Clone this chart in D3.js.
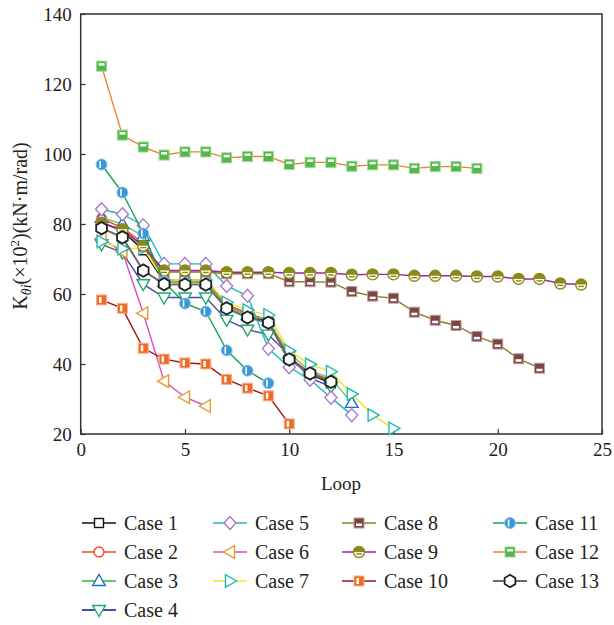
<!DOCTYPE html>
<html>
<head>
<meta charset="utf-8">
<script src="https://cdn.jsdelivr.net/npm/d3@7"></script>
<style>
  body { margin: 0; background: #fff; }
  svg text { font-family: "Liberation Serif", "DejaVu Serif", serif; fill: #222; }
</style>
</head>
<body>
<div id="chart"></div>
<script>
// values per loop (loop = index + 1)
const caseNames = ["Case 1", "Case 2", "Case 3", "Case 4", "Case 5", "Case 6", "Case 7",
  "Case 8", "Case 9", "Case 10", "Case 11", "Case 12", "Case 13"];

const case1 = [80.5, 78, 72.5, 63.5, 63.5, 63.5, 56.5, 54, 52, 41.5, 37, 34.5];
const case2 = [81.5, 79, 74.5, 64, 64, 64, 57, 54.5, 52.5, 42, 37.5, 35.5];
const case3 = [81.8, 80, 76.5, 63.5, 63.5, 63.5, 56.5, 54, 52.5, 43, 38, 36, 28.9];
const case4 = [74.2, 71.8, 62.8, 59, 59, 59, 52.6, 49.8, 48.4, 42.5, 36, 33.5];
const case5 = [84.2, 82.8, 79.6, 68.6, 68.6, 68.6, 62.3, 59.5, 44.4, 39.1, 35.5, 30.4, 25.4];
const case6 = [75.9, 72.1, 54.5, 35.1, 30.5, 28];
const case7 = [75, 73, 73, 64, 64, 64, 57.6, 55.4, 54, 43.8, 39.9, 37.8, 31.4, 25.4, 21.6];
const case8 = [80.5, 78, 73.5, 66.3, 66.3, 66.3, 65.8, 65.8, 65.8, 63.5, 63.5, 63.4, 60.7,
  59.4, 58.8, 54.8, 52.5, 51, 47.9, 45.7, 41.5, 38.8];
const case9 = [80.2, 78.5, 73.8, 66.7, 66.7, 66.7, 66.2, 66.2, 66.2, 66, 66, 66, 65.5, 65.6,
  65.6, 65.2, 65.2, 65.2, 65, 65, 64.3, 64.3, 63, 62.7];
const case10 = [58.3, 55.9, 44.5, 41.4, 40.3, 40, 35.6, 33.1, 30.9, 22.9];
const case11 = [97, 89, 77.3, 63.5, 57.3, 55, 43.9, 38.1, 34.5];
const case12 = [125.1, 105.4, 102, 99.7, 100.6, 100.6, 98.9, 99.3, 99.3, 97, 97.6, 97.6,
  96.5, 96.9, 96.9, 95.9, 96.4, 96.4, 95.9];
const case13 = [78.8, 76.2, 66.7, 62.8, 62.7, 62.7, 55.9, 53.3, 51.8, 41.3, 37.3, 34.9];

const xTicks = [0, 5, 10, 15, 20, 25];
const yTicks = [20, 40, 60, 80, 100, 120, 140];

const allValues = [case1, case2, case3, case4, case5, case6, case7, case8, case9,
  case10, case11, case12, case13];

// line colour, marker colour, marker kind
const styles = [
  { line: "#111", mk: "#111", kind: "square" },
  { line: "#f04a2a", mk: "#f04a2a", kind: "circle" },
  { line: "#6cc46c", mk: "#1a6fc4", kind: "triUp" },
  { line: "#4a4aa8", mk: "#20a870", kind: "triDown" },
  { line: "#20b8c0", mk: "#a878c8", kind: "diamond" },
  { line: "#d850b8", mk: "#e89a28", kind: "triLeft" },
  { line: "#f0e428", mk: "#20b8b8", kind: "triRight" },
  { line: "#808020", mk: "#7a4646", kind: "sqBarLow" },
  { line: "#a020a8", mk: "#8a8a18", kind: "halfCircle" },
  { line: "#a01414", mk: "#f06a24", kind: "sqBarV" },
  { line: "#18a050", mk: "#3a98d8", kind: "circleV" },
  { line: "#f08030", mk: "#50b848", kind: "sqBarHigh" },
  { line: "#6a6a6a", mk: "#222", kind: "hexagon" }
];

const W = 614, H = 625;
const svg = d3.select("#chart").append("svg")
  .attr("width", W).attr("height", H);

const x = d3.scaleLinear().domain([0, 25]).range([80.7, 602]);
const y = d3.scaleLinear().domain([20, 140]).range([434, 14]);

function drawMarker(g, kind, c) {
  const sw = 1.4;
  if (kind === "square") {
    g.append("rect").attr("x", -4.5).attr("y", -4.5).attr("width", 9).attr("height", 9)
      .attr("fill", "#fff").attr("stroke", c).attr("stroke-width", sw);
  } else if (kind === "circle") {
    g.append("circle").attr("r", 5).attr("fill", "#fff").attr("stroke", c).attr("stroke-width", sw);
  } else if (kind === "triUp" || kind === "triDown" || kind === "triLeft" || kind === "triRight") {
    const rot = { triUp: 0, triDown: 180, triLeft: -90, triRight: 90 }[kind];
    g.append("path").attr("d", "M0,-6.5L6.3,4.5L-6.3,4.5Z")
      .attr("transform", `rotate(${rot})`)
      .attr("fill", "#fff").attr("stroke", c).attr("stroke-width", sw);
  } else if (kind === "diamond") {
    g.append("path").attr("d", "M0,-6.5L6,0L0,6.5L-6,0Z")
      .attr("fill", "#fff").attr("stroke", c).attr("stroke-width", sw);
  } else if (kind === "hexagon") {
    const pts = d3.range(6).map(i => {
      const a = Math.PI / 6 + i * Math.PI / 3;
      return [6.2 * Math.cos(a), 6.2 * Math.sin(a)];
    });
    g.append("path").attr("d", "M" + pts.join("L") + "Z")
      .attr("fill", "#fff").attr("stroke", c).attr("stroke-width", 1.8);
  } else if (kind === "sqBarLow") {
    g.append("rect").attr("x", -5).attr("y", -5).attr("width", 10).attr("height", 10)
      .attr("fill", c).attr("stroke", "#c49a9a").attr("stroke-width", 1);
    g.append("rect").attr("x", -3).attr("y", 0.5).attr("width", 6).attr("height", 2.5).attr("fill", "#fff");
  } else if (kind === "sqBarHigh") {
    g.append("rect").attr("x", -5).attr("y", -5).attr("width", 10).attr("height", 10)
      .attr("fill", c).attr("stroke", "#9ad890").attr("stroke-width", 1);
    g.append("rect").attr("x", -3).attr("y", -3).attr("width", 6).attr("height", 2.5).attr("fill", "#fff");
  } else if (kind === "sqBarV") {
    g.append("rect").attr("x", -5).attr("y", -5).attr("width", 10).attr("height", 10)
      .attr("fill", c).attr("stroke", "#f8b090").attr("stroke-width", 1);
    g.append("rect").attr("x", -2.5).attr("y", -3).attr("width", 2.5).attr("height", 6).attr("fill", "#fff");
  } else if (kind === "halfCircle") {
    g.append("circle").attr("r", 5.5).attr("fill", "#fff").attr("stroke", c).attr("stroke-width", 1.4);
    g.append("path").attr("d", "M-5.5,0A5.5,5.5 0 0 1 5.5,0Z").attr("fill", c);
    g.append("rect").attr("x", -3).attr("y", 1.2).attr("width", 6).attr("height", 1.4).attr("fill", c);
  } else if (kind === "circleV") {
    g.append("circle").attr("r", 5.5).attr("fill", c).attr("stroke", "#8cc4ec").attr("stroke-width", 1);
    g.append("rect").attr("x", -2.2).attr("y", -3.5).attr("width", 1.6).attr("height", 7).attr("fill", "#fff");
  }
}

// axes
const xAxis = d3.axisBottom(x).tickValues(xTicks).tickSizeInner(-5).tickSizeOuter(0).tickPadding(9);
const yAxis = d3.axisLeft(y).tickValues(yTicks).tickSizeInner(-5).tickSizeOuter(0).tickPadding(9);

const gx = svg.append("g").attr("transform", "translate(0,434)").call(xAxis);
const gy = svg.append("g").attr("transform", "translate(80.7,0)").call(yAxis);
[gx, gy].forEach(g => {
  g.select(".domain").remove();
  g.selectAll("line").attr("stroke", "#333").attr("stroke-width", 1.2);
  g.selectAll("text").attr("font-size", 19).attr("fill", "#222")
    .style("font-family", '"Liberation Serif", serif');
});

// frame
svg.append("rect")
  .attr("x", 80.7).attr("y", 14).attr("width", 602 - 80.7).attr("height", 420)
  .attr("fill", "none").attr("stroke", "#333").attr("stroke-width", 1.5);

// series
const line = d3.line().x((d, i) => x(i + 1)).y(d => y(d));
allValues.forEach((vals, k) => {
  const st = styles[k];
  const g = svg.append("g");
  g.append("path").attr("d", line(vals)).attr("fill", "none")
    .attr("stroke", st.line).attr("stroke-width", k === 12 ? 2 : 1.4);
  vals.forEach((v, i) => {
    const mg = g.append("g").attr("transform", `translate(${x(i + 1)},${y(v)})`);
    drawMarker(mg, st.kind, st.mk);
  });
});

// axis titles
svg.append("text").attr("x", 341).attr("y", 490).attr("text-anchor", "middle")
  .attr("font-size", 19).text("Loop");

const yt = svg.append("text")
  .attr("transform", "translate(27,226) rotate(-90)")
  .attr("text-anchor", "middle").attr("font-size", 20);
yt.append("tspan").text("K");
yt.append("tspan").attr("font-size", 14).attr("dy", 4).attr("font-style", "italic").text("θi");
yt.append("tspan").attr("dy", -4).text("(×10");
yt.append("tspan").attr("font-size", 13).attr("dy", -8).text("2");
yt.append("tspan").attr("dy", 8).text(")(kN·m/rad)");

// legend
const colX = [99, 230, 359, 510];
const rowY = [523, 552, 581, 610];
caseNames.forEach((name, k) => {
  let c, r;
  if (k < 4) { c = 0; r = k; }
  else if (k < 7) { c = 1; r = k - 4; }
  else if (k < 10) { c = 2; r = k - 7; }
  else { c = 3; r = k - 10; }
  const g = svg.append("g").attr("transform", `translate(${colX[c]},${rowY[r]})`);
  g.append("line").attr("x1", -17).attr("x2", 17).attr("stroke", styles[k].line)
    .attr("stroke-width", k === 12 || k === 2 || k === 3 ? 2 : 1.4);
  drawMarker(g, styles[k].kind, styles[k].mk);
  g.append("text").attr("x", 25).attr("y", 7).attr("font-size", 20).text(name);
});
</script>
</body>
</html>
